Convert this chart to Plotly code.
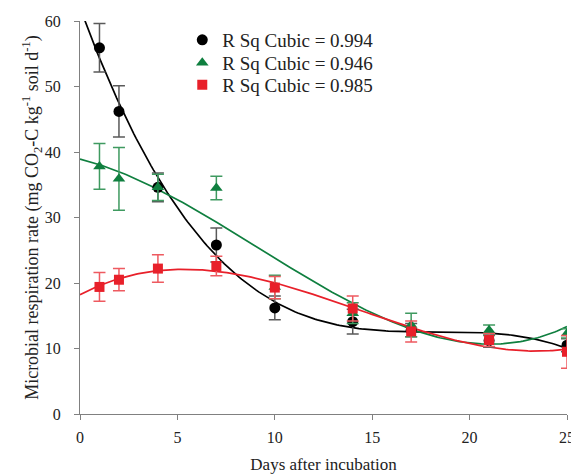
import numpy as np
import plotly.graph_objects as go

days = [1, 2, 4, 7, 10, 14, 17, 21, 25]

black_mean = [55.9, 46.2, 34.6, 25.8, 16.2, 14.1, 12.8, 11.2, 10.5]
black_err = [3.7, 3.9, 2.2, 2.6, 1.8, 1.9, 1.0, 1.0, 1.0]

green_mean = [37.8, 35.9, 34.6, 34.5, 19.4, 15.4, 13.6, 12.8, 12.3]
green_err = [3.5, 4.8, 2.0, 1.8, 1.8, 1.6, 1.8, 0.8, 0.7]

red_mean = [19.4, 20.5, 22.2, 22.6, 19.3, 16.1, 12.6, 11.3, 9.5]
red_err = [2.2, 1.7, 2.1, 1.5, 1.7, 1.9, 1.6, 1.0, 2.5]

legend_labels = ["R Sq Cubic = 0.994", "R Sq Cubic = 0.946", "R Sq Cubic = 0.985"]

x_ticks = [0, 5, 10, 15, 20, 25]
y_ticks = [0, 10, 20, 30, 40, 50, 60]

FONT = "Times New Roman"

series = [
    dict(y=black_mean, e=black_err, name=legend_labels[0], color="#000000",
         ecolor="#5a5a5a", symbol="circle", size=11, legend="legend", ly=1.0),
    dict(y=green_mean, e=green_err, name=legend_labels[1], color="#0f7f3f",
         ecolor="#3f9a60", symbol="triangle-up", size=11, legend="legend2", ly=0.942),
    dict(y=red_mean, e=red_err, name=legend_labels[2], color="#e8202a",
         ecolor="#ee5a60", symbol="square", size=10, legend="legend3", ly=0.886),
]

fig = go.Figure()
xs = np.linspace(0, 25, 200)

# fitted cubic curves
for s in series:
    coef = np.polyfit(days, s["y"], 3)
    fig.add_trace(go.Scatter(x=xs, y=np.polyval(coef, xs), mode="lines",
                             line=dict(color=s["color"], width=1.7),
                             showlegend=False, hoverinfo="skip"))

# data points with error bars
for s in series:
    fig.add_trace(go.Scatter(
        x=days, y=s["y"], mode="markers", name=s["name"], legend=s["legend"],
        marker=dict(color=s["color"], symbol=s["symbol"], size=s["size"]),
        error_y=dict(type="data", array=s["e"], visible=True,
                     color=s["ecolor"], thickness=1.5, width=6),
    ))

leg_common = dict(xanchor="left", yanchor="top", bgcolor="rgba(0,0,0,0)",
                  font=dict(size=19, family=FONT, color="#222"), itemwidth=30)

fig.update_layout(
    width=571, height=474,
    margin=dict(l=80, r=4, t=21, b=60),
    paper_bgcolor="white", plot_bgcolor="white",
    font=dict(family=FONT, size=16, color="#222"),
    showlegend=True,
    legend=dict(x=0.21, y=series[0]["ly"], **leg_common),
    legend2=dict(x=0.21, y=series[1]["ly"], **leg_common),
    legend3=dict(x=0.21, y=series[2]["ly"], **leg_common),
)

fig.update_xaxes(range=[0, 25], tickvals=x_ticks, ticks="outside", ticklen=5,
                 showline=True, linecolor="#808080", linewidth=1.2,
                 tickcolor="#808080", showgrid=False, zeroline=False,
                 ticklabeloverflow="allow", ticklabelstandoff=4, automargin=False,
                 title=dict(text="Days after incubation", font=dict(size=17), standoff=12))
fig.update_yaxes(range=[0, 60], tickvals=y_ticks, ticks="outside", ticklen=5,
                 showline=True, linecolor="#808080", linewidth=1.2,
                 tickcolor="#808080", showgrid=False, zeroline=False,
                 ticklabelstandoff=10, automargin=False,
                 title=dict(text="Microbial respiration rate (mg CO<sub>2</sub>-C kg<sup>-1</sup> soil d<sup>-1</sup>)",
                            font=dict(size=18), standoff=1))

fig.write_html("out.html")
